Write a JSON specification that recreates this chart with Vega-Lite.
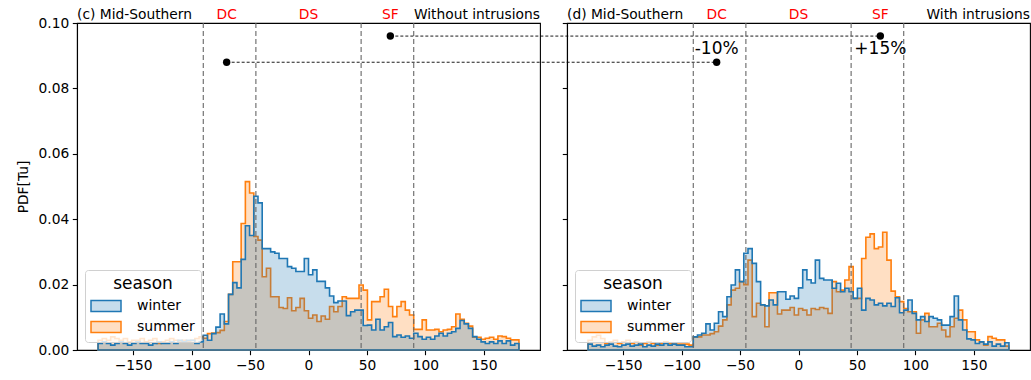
{
  "$schema": "https://vega.github.io/schema/vega-lite/v6.json",
  "padding": {"left": 15, "top": 7, "right": 0, "bottom": 3},
  "bounds": "flush",
  "spacing": 27,
  "config": {
    "font": "DejaVu Sans",
    "view": {"stroke": "black", "strokeWidth": 1.1},
    "axis": {
      "grid": false,
      "domainColor": "black",
      "domainWidth": 1.1,
      "tickColor": "black",
      "tickWidth": 1.1,
      "tickSize": 4.7,
      "labelFontSize": 13.8,
      "labelColor": "black",
      "labelPadding": 3.5,
      "titleFontSize": 13.8,
      "titleFontWeight": "normal",
      "titleColor": "black",
      "zindex": 1
    },
    "legend": {
      "orient": "bottom-left",
      "offset": 8,
      "fillColor": "rgba(255,255,255,0.8)",
      "strokeColor": "#d0d0d0",
      "cornerRadius": 3,
      "padding": 6,
      "titleFontSize": 17,
      "titleFontWeight": "normal",
      "titleColor": "black",
      "titleAnchor": "middle",
      "titlePadding": 2,
      "labelFontSize": 14,
      "labelColor": "black",
      "labelOffset": 20,
      "rowPadding": 1,
      "symbolOffset": 4,
      "symbolType": "M-1.5,-0.55H1.5V0.55H-1.5Z",
      "symbolSize": 400,
      "symbolStrokeWidth": 1.5
    }
  },
  "datasets": {
    "histC": [
      {"season":"winter","lo":-180,"hi":-176.4,"pdf":0.002},
      {"season":"winter","lo":-176.4,"hi":-172.8,"pdf":0.0025},
      {"season":"winter","lo":-172.8,"hi":-169.2,"pdf":0.002},
      {"season":"winter","lo":-169.2,"hi":-165.6,"pdf":0.0015},
      {"season":"winter","lo":-165.6,"hi":-162,"pdf":0.002},
      {"season":"winter","lo":-162,"hi":-158.4,"pdf":0.0025},
      {"season":"winter","lo":-158.4,"hi":-154.8,"pdf":0.002},
      {"season":"winter","lo":-154.8,"hi":-151.2,"pdf":0.0015},
      {"season":"winter","lo":-151.2,"hi":-147.6,"pdf":0.002},
      {"season":"winter","lo":-147.6,"hi":-144,"pdf":0.0025},
      {"season":"winter","lo":-144,"hi":-140.4,"pdf":0.002},
      {"season":"winter","lo":-140.4,"hi":-136.8,"pdf":0.002},
      {"season":"winter","lo":-136.8,"hi":-133.2,"pdf":0.0015},
      {"season":"winter","lo":-133.2,"hi":-129.6,"pdf":0.002},
      {"season":"winter","lo":-129.6,"hi":-126,"pdf":0.0025},
      {"season":"winter","lo":-126,"hi":-122.4,"pdf":0.002},
      {"season":"winter","lo":-122.4,"hi":-118.8,"pdf":0.002},
      {"season":"winter","lo":-118.8,"hi":-115.2,"pdf":0.0025},
      {"season":"winter","lo":-115.2,"hi":-111.6,"pdf":0.002},
      {"season":"winter","lo":-111.6,"hi":-108,"pdf":0.003},
      {"season":"winter","lo":-108,"hi":-104.4,"pdf":0.0025},
      {"season":"winter","lo":-104.4,"hi":-100.8,"pdf":0.003},
      {"season":"winter","lo":-100.8,"hi":-97.2,"pdf":0.003},
      {"season":"winter","lo":-97.2,"hi":-93.6,"pdf":0.002},
      {"season":"winter","lo":-93.6,"hi":-90,"pdf":0.0025},
      {"season":"winter","lo":-90,"hi":-86.4,"pdf":0.0045},
      {"season":"winter","lo":-86.4,"hi":-82.8,"pdf":0.003},
      {"season":"winter","lo":-82.8,"hi":-79.2,"pdf":0.005},
      {"season":"winter","lo":-79.2,"hi":-75.6,"pdf":0.007},
      {"season":"winter","lo":-75.6,"hi":-72,"pdf":0.011},
      {"season":"winter","lo":-72,"hi":-68.4,"pdf":0.008},
      {"season":"winter","lo":-68.4,"hi":-64.8,"pdf":0.017},
      {"season":"winter","lo":-64.8,"hi":-61.2,"pdf":0.0206},
      {"season":"winter","lo":-61.2,"hi":-57.6,"pdf":0.019},
      {"season":"winter","lo":-57.6,"hi":-54,"pdf":0.0277},
      {"season":"winter","lo":-54,"hi":-50.4,"pdf":0.038},
      {"season":"winter","lo":-50.4,"hi":-46.8,"pdf":0.035},
      {"season":"winter","lo":-46.8,"hi":-43.2,"pdf":0.047},
      {"season":"winter","lo":-43.2,"hi":-39.6,"pdf":0.045},
      {"season":"winter","lo":-39.6,"hi":-36,"pdf":0.031},
      {"season":"winter","lo":-36,"hi":-32.4,"pdf":0.031},
      {"season":"winter","lo":-32.4,"hi":-28.8,"pdf":0.030},
      {"season":"winter","lo":-28.8,"hi":-25.2,"pdf":0.0296},
      {"season":"winter","lo":-25.2,"hi":-21.6,"pdf":0.028},
      {"season":"winter","lo":-21.6,"hi":-18,"pdf":0.028},
      {"season":"winter","lo":-18,"hi":-14.4,"pdf":0.0255},
      {"season":"winter","lo":-14.4,"hi":-10.8,"pdf":0.025},
      {"season":"winter","lo":-10.8,"hi":-7.2,"pdf":0.024},
      {"season":"winter","lo":-7.2,"hi":-3.6,"pdf":0.024},
      {"season":"winter","lo":-3.6,"hi":0,"pdf":0.028},
      {"season":"winter","lo":0,"hi":3.6,"pdf":0.023},
      {"season":"winter","lo":3.6,"hi":7.2,"pdf":0.0245},
      {"season":"winter","lo":7.2,"hi":10.8,"pdf":0.021},
      {"season":"winter","lo":10.8,"hi":14.4,"pdf":0.021},
      {"season":"winter","lo":14.4,"hi":18,"pdf":0.019},
      {"season":"winter","lo":18,"hi":21.6,"pdf":0.0165},
      {"season":"winter","lo":21.6,"hi":25.2,"pdf":0.0145},
      {"season":"winter","lo":25.2,"hi":28.8,"pdf":0.015},
      {"season":"winter","lo":28.8,"hi":32.4,"pdf":0.015},
      {"season":"winter","lo":32.4,"hi":36,"pdf":0.0105},
      {"season":"winter","lo":36,"hi":39.6,"pdf":0.0117},
      {"season":"winter","lo":39.6,"hi":43.2,"pdf":0.0122},
      {"season":"winter","lo":43.2,"hi":46.8,"pdf":0.0122},
      {"season":"winter","lo":46.8,"hi":50.4,"pdf":0.0075},
      {"season":"winter","lo":50.4,"hi":54,"pdf":0.0076},
      {"season":"winter","lo":54,"hi":57.6,"pdf":0.0061},
      {"season":"winter","lo":57.6,"hi":61.2,"pdf":0.0094},
      {"season":"winter","lo":61.2,"hi":64.8,"pdf":0.0061},
      {"season":"winter","lo":64.8,"hi":68.4,"pdf":0.0071},
      {"season":"winter","lo":68.4,"hi":72,"pdf":0.0084},
      {"season":"winter","lo":72,"hi":75.6,"pdf":0.0041},
      {"season":"winter","lo":75.6,"hi":79.2,"pdf":0.0046},
      {"season":"winter","lo":79.2,"hi":82.8,"pdf":0.0039},
      {"season":"winter","lo":82.8,"hi":86.4,"pdf":0.0043},
      {"season":"winter","lo":86.4,"hi":90,"pdf":0.0036},
      {"season":"winter","lo":90,"hi":93.6,"pdf":0.0051},
      {"season":"winter","lo":93.6,"hi":97.2,"pdf":0.0041},
      {"season":"winter","lo":97.2,"hi":100.8,"pdf":0.0033},
      {"season":"winter","lo":100.8,"hi":104.4,"pdf":0.0039},
      {"season":"winter","lo":104.4,"hi":108,"pdf":0.0033},
      {"season":"winter","lo":108,"hi":111.6,"pdf":0.0043},
      {"season":"winter","lo":111.6,"hi":115.2,"pdf":0.0051},
      {"season":"winter","lo":115.2,"hi":118.8,"pdf":0.0043},
      {"season":"winter","lo":118.8,"hi":122.4,"pdf":0.0051},
      {"season":"winter","lo":122.4,"hi":126,"pdf":0.0056},
      {"season":"winter","lo":126,"hi":129.6,"pdf":0.0066},
      {"season":"winter","lo":129.6,"hi":133.2,"pdf":0.009},
      {"season":"winter","lo":133.2,"hi":136.8,"pdf":0.008},
      {"season":"winter","lo":136.8,"hi":140.4,"pdf":0.0066},
      {"season":"winter","lo":140.4,"hi":144,"pdf":0.0041},
      {"season":"winter","lo":144,"hi":147.6,"pdf":0.0033},
      {"season":"winter","lo":147.6,"hi":151.2,"pdf":0.0025},
      {"season":"winter","lo":151.2,"hi":154.8,"pdf":0.002},
      {"season":"winter","lo":154.8,"hi":158.4,"pdf":0.0025},
      {"season":"winter","lo":158.4,"hi":162,"pdf":0.002},
      {"season":"winter","lo":162,"hi":165.6,"pdf":0.0028},
      {"season":"winter","lo":165.6,"hi":169.2,"pdf":0.002},
      {"season":"winter","lo":169.2,"hi":172.8,"pdf":0.0028},
      {"season":"winter","lo":172.8,"hi":176.4,"pdf":0.0015},
      {"season":"winter","lo":176.4,"hi":180,"pdf":0.002},
      {"season":"summer","lo":-180,"hi":-176.4,"pdf":0.003},
      {"season":"summer","lo":-176.4,"hi":-172.8,"pdf":0.0035},
      {"season":"summer","lo":-172.8,"hi":-169.2,"pdf":0.003},
      {"season":"summer","lo":-169.2,"hi":-165.6,"pdf":0.004},
      {"season":"summer","lo":-165.6,"hi":-162,"pdf":0.0035},
      {"season":"summer","lo":-162,"hi":-158.4,"pdf":0.003},
      {"season":"summer","lo":-158.4,"hi":-154.8,"pdf":0.0035},
      {"season":"summer","lo":-154.8,"hi":-151.2,"pdf":0.0025},
      {"season":"summer","lo":-151.2,"hi":-147.6,"pdf":0.003},
      {"season":"summer","lo":-147.6,"hi":-144,"pdf":0.003},
      {"season":"summer","lo":-144,"hi":-140.4,"pdf":0.0035},
      {"season":"summer","lo":-140.4,"hi":-136.8,"pdf":0.0025},
      {"season":"summer","lo":-136.8,"hi":-133.2,"pdf":0.003},
      {"season":"summer","lo":-133.2,"hi":-129.6,"pdf":0.0035},
      {"season":"summer","lo":-129.6,"hi":-126,"pdf":0.002},
      {"season":"summer","lo":-126,"hi":-122.4,"pdf":0.0025},
      {"season":"summer","lo":-122.4,"hi":-118.8,"pdf":0.003},
      {"season":"summer","lo":-118.8,"hi":-115.2,"pdf":0.0035},
      {"season":"summer","lo":-115.2,"hi":-111.6,"pdf":0.003},
      {"season":"summer","lo":-111.6,"hi":-108,"pdf":0.0025},
      {"season":"summer","lo":-108,"hi":-104.4,"pdf":0.003},
      {"season":"summer","lo":-104.4,"hi":-100.8,"pdf":0.0025},
      {"season":"summer","lo":-100.8,"hi":-97.2,"pdf":0.003},
      {"season":"summer","lo":-97.2,"hi":-93.6,"pdf":0.0035},
      {"season":"summer","lo":-93.6,"hi":-90,"pdf":0.004},
      {"season":"summer","lo":-90,"hi":-86.4,"pdf":0.0036},
      {"season":"summer","lo":-86.4,"hi":-82.8,"pdf":0.005},
      {"season":"summer","lo":-82.8,"hi":-79.2,"pdf":0.0052},
      {"season":"summer","lo":-79.2,"hi":-75.6,"pdf":0.0053},
      {"season":"summer","lo":-75.6,"hi":-72,"pdf":0.006},
      {"season":"summer","lo":-72,"hi":-68.4,"pdf":0.0087},
      {"season":"summer","lo":-68.4,"hi":-64.8,"pdf":0.017},
      {"season":"summer","lo":-64.8,"hi":-61.2,"pdf":0.027},
      {"season":"summer","lo":-61.2,"hi":-57.6,"pdf":0.027},
      {"season":"summer","lo":-57.6,"hi":-54,"pdf":0.0387},
      {"season":"summer","lo":-54,"hi":-50.4,"pdf":0.0515},
      {"season":"summer","lo":-50.4,"hi":-46.8,"pdf":0.048},
      {"season":"summer","lo":-46.8,"hi":-43.2,"pdf":0.0347},
      {"season":"summer","lo":-43.2,"hi":-39.6,"pdf":0.0336},
      {"season":"summer","lo":-39.6,"hi":-36,"pdf":0.0224},
      {"season":"summer","lo":-36,"hi":-32.4,"pdf":0.025},
      {"season":"summer","lo":-32.4,"hi":-28.8,"pdf":0.0163},
      {"season":"summer","lo":-28.8,"hi":-25.2,"pdf":0.0163},
      {"season":"summer","lo":-25.2,"hi":-21.6,"pdf":0.013},
      {"season":"summer","lo":-21.6,"hi":-18,"pdf":0.0127},
      {"season":"summer","lo":-18,"hi":-14.4,"pdf":0.016},
      {"season":"summer","lo":-14.4,"hi":-10.8,"pdf":0.012},
      {"season":"summer","lo":-10.8,"hi":-7.2,"pdf":0.013},
      {"season":"summer","lo":-7.2,"hi":-3.6,"pdf":0.0158},
      {"season":"summer","lo":-3.6,"hi":0,"pdf":0.012},
      {"season":"summer","lo":0,"hi":3.6,"pdf":0.0097},
      {"season":"summer","lo":3.6,"hi":7.2,"pdf":0.0107},
      {"season":"summer","lo":7.2,"hi":10.8,"pdf":0.0087},
      {"season":"summer","lo":10.8,"hi":14.4,"pdf":0.0104},
      {"season":"summer","lo":14.4,"hi":18,"pdf":0.0094},
      {"season":"summer","lo":18,"hi":21.6,"pdf":0.0133},
      {"season":"summer","lo":21.6,"hi":25.2,"pdf":0.0117},
      {"season":"summer","lo":25.2,"hi":28.8,"pdf":0.0133},
      {"season":"summer","lo":28.8,"hi":32.4,"pdf":0.0163},
      {"season":"summer","lo":32.4,"hi":36,"pdf":0.0158},
      {"season":"summer","lo":36,"hi":39.6,"pdf":0.0158},
      {"season":"summer","lo":39.6,"hi":43.2,"pdf":0.0158},
      {"season":"summer","lo":43.2,"hi":46.8,"pdf":0.0199},
      {"season":"summer","lo":46.8,"hi":50.4,"pdf":0.0183},
      {"season":"summer","lo":50.4,"hi":54,"pdf":0.0092},
      {"season":"summer","lo":54,"hi":57.6,"pdf":0.0148},
      {"season":"summer","lo":57.6,"hi":61.2,"pdf":0.0148},
      {"season":"summer","lo":61.2,"hi":64.8,"pdf":0.0163},
      {"season":"summer","lo":64.8,"hi":68.4,"pdf":0.0186},
      {"season":"summer","lo":68.4,"hi":72,"pdf":0.0133},
      {"season":"summer","lo":72,"hi":75.6,"pdf":0.0102},
      {"season":"summer","lo":75.6,"hi":79.2,"pdf":0.0133},
      {"season":"summer","lo":79.2,"hi":82.8,"pdf":0.0148},
      {"season":"summer","lo":82.8,"hi":86.4,"pdf":0.0122},
      {"season":"summer","lo":86.4,"hi":90,"pdf":0.0107},
      {"season":"summer","lo":90,"hi":93.6,"pdf":0.0063},
      {"season":"summer","lo":93.6,"hi":97.2,"pdf":0.0063},
      {"season":"summer","lo":97.2,"hi":100.8,"pdf":0.0092},
      {"season":"summer","lo":100.8,"hi":104.4,"pdf":0.0061},
      {"season":"summer","lo":104.4,"hi":108,"pdf":0.0061},
      {"season":"summer","lo":108,"hi":111.6,"pdf":0.0063},
      {"season":"summer","lo":111.6,"hi":115.2,"pdf":0.0056},
      {"season":"summer","lo":115.2,"hi":118.8,"pdf":0.0061},
      {"season":"summer","lo":118.8,"hi":122.4,"pdf":0.0063},
      {"season":"summer","lo":122.4,"hi":126,"pdf":0.0071},
      {"season":"summer","lo":126,"hi":129.6,"pdf":0.011},
      {"season":"summer","lo":129.6,"hi":133.2,"pdf":0.0094},
      {"season":"summer","lo":133.2,"hi":136.8,"pdf":0.0082},
      {"season":"summer","lo":136.8,"hi":140.4,"pdf":0.0073},
      {"season":"summer","lo":140.4,"hi":144,"pdf":0.0039},
      {"season":"summer","lo":144,"hi":147.6,"pdf":0.0039},
      {"season":"summer","lo":147.6,"hi":151.2,"pdf":0.0033},
      {"season":"summer","lo":151.2,"hi":154.8,"pdf":0.0036},
      {"season":"summer","lo":154.8,"hi":158.4,"pdf":0.0039},
      {"season":"summer","lo":158.4,"hi":162,"pdf":0.0033},
      {"season":"summer","lo":162,"hi":165.6,"pdf":0.0043},
      {"season":"summer","lo":165.6,"hi":169.2,"pdf":0.0041},
      {"season":"summer","lo":169.2,"hi":172.8,"pdf":0.0036},
      {"season":"summer","lo":172.8,"hi":176.4,"pdf":0.0031},
      {"season":"summer","lo":176.4,"hi":180,"pdf":0.0031}
    ],
    "histD": [
      {"season":"winter","lo":-180,"hi":-176.4,"pdf":0.0018},
      {"season":"winter","lo":-176.4,"hi":-172.8,"pdf":0.0012},
      {"season":"winter","lo":-172.8,"hi":-169.2,"pdf":0.0015},
      {"season":"winter","lo":-169.2,"hi":-165.6,"pdf":0.001},
      {"season":"winter","lo":-165.6,"hi":-162,"pdf":0.0015},
      {"season":"winter","lo":-162,"hi":-158.4,"pdf":0.0018},
      {"season":"winter","lo":-158.4,"hi":-154.8,"pdf":0.0012},
      {"season":"winter","lo":-154.8,"hi":-151.2,"pdf":0.001},
      {"season":"winter","lo":-151.2,"hi":-147.6,"pdf":0.0015},
      {"season":"winter","lo":-147.6,"hi":-144,"pdf":0.0018},
      {"season":"winter","lo":-144,"hi":-140.4,"pdf":0.0012},
      {"season":"winter","lo":-140.4,"hi":-136.8,"pdf":0.0015},
      {"season":"winter","lo":-136.8,"hi":-133.2,"pdf":0.0018},
      {"season":"winter","lo":-133.2,"hi":-129.6,"pdf":0.001},
      {"season":"winter","lo":-129.6,"hi":-126,"pdf":0.0015},
      {"season":"winter","lo":-126,"hi":-122.4,"pdf":0.0012},
      {"season":"winter","lo":-122.4,"hi":-118.8,"pdf":0.0018},
      {"season":"winter","lo":-118.8,"hi":-115.2,"pdf":0.0015},
      {"season":"winter","lo":-115.2,"hi":-111.6,"pdf":0.002},
      {"season":"winter","lo":-111.6,"hi":-108,"pdf":0.0015},
      {"season":"winter","lo":-108,"hi":-104.4,"pdf":0.0018},
      {"season":"winter","lo":-104.4,"hi":-100.8,"pdf":0.0015},
      {"season":"winter","lo":-100.8,"hi":-97.2,"pdf":0.0015},
      {"season":"winter","lo":-97.2,"hi":-93.6,"pdf":0.001},
      {"season":"winter","lo":-93.6,"hi":-90,"pdf":0.001},
      {"season":"winter","lo":-90,"hi":-86.4,"pdf":0.004},
      {"season":"winter","lo":-86.4,"hi":-82.8,"pdf":0.0046},
      {"season":"winter","lo":-82.8,"hi":-79.2,"pdf":0.0051},
      {"season":"winter","lo":-79.2,"hi":-75.6,"pdf":0.008},
      {"season":"winter","lo":-75.6,"hi":-72,"pdf":0.0061},
      {"season":"winter","lo":-72,"hi":-68.4,"pdf":0.0082},
      {"season":"winter","lo":-68.4,"hi":-64.8,"pdf":0.0117},
      {"season":"winter","lo":-64.8,"hi":-61.2,"pdf":0.0102},
      {"season":"winter","lo":-61.2,"hi":-57.6,"pdf":0.0163},
      {"season":"winter","lo":-57.6,"hi":-54,"pdf":0.0199},
      {"season":"winter","lo":-54,"hi":-50.4,"pdf":0.0245},
      {"season":"winter","lo":-50.4,"hi":-46.8,"pdf":0.0209},
      {"season":"winter","lo":-46.8,"hi":-43.2,"pdf":0.0296},
      {"season":"winter","lo":-43.2,"hi":-39.6,"pdf":0.031},
      {"season":"winter","lo":-39.6,"hi":-36,"pdf":0.0265},
      {"season":"winter","lo":-36,"hi":-32.4,"pdf":0.0209},
      {"season":"winter","lo":-32.4,"hi":-28.8,"pdf":0.0138},
      {"season":"winter","lo":-28.8,"hi":-25.2,"pdf":0.0135},
      {"season":"winter","lo":-25.2,"hi":-21.6,"pdf":0.0153},
      {"season":"winter","lo":-21.6,"hi":-18,"pdf":0.0138},
      {"season":"winter","lo":-18,"hi":-14.4,"pdf":0.0178},
      {"season":"winter","lo":-14.4,"hi":-10.8,"pdf":0.0178},
      {"season":"winter","lo":-10.8,"hi":-7.2,"pdf":0.0155},
      {"season":"winter","lo":-7.2,"hi":-3.6,"pdf":0.0165},
      {"season":"winter","lo":-3.6,"hi":0,"pdf":0.0158},
      {"season":"winter","lo":0,"hi":3.6,"pdf":0.019},
      {"season":"winter","lo":3.6,"hi":7.2,"pdf":0.0245},
      {"season":"winter","lo":7.2,"hi":10.8,"pdf":0.0215},
      {"season":"winter","lo":10.8,"hi":14.4,"pdf":0.0205},
      {"season":"winter","lo":14.4,"hi":18,"pdf":0.0275},
      {"season":"winter","lo":18,"hi":21.6,"pdf":0.0219},
      {"season":"winter","lo":21.6,"hi":25.2,"pdf":0.0214},
      {"season":"winter","lo":25.2,"hi":28.8,"pdf":0.0214},
      {"season":"winter","lo":28.8,"hi":32.4,"pdf":0.0189},
      {"season":"winter","lo":32.4,"hi":36,"pdf":0.0204},
      {"season":"winter","lo":36,"hi":39.6,"pdf":0.0178},
      {"season":"winter","lo":39.6,"hi":43.2,"pdf":0.0189},
      {"season":"winter","lo":43.2,"hi":46.8,"pdf":0.0178},
      {"season":"winter","lo":46.8,"hi":50.4,"pdf":0.0158},
      {"season":"winter","lo":50.4,"hi":54,"pdf":0.0189},
      {"season":"winter","lo":54,"hi":57.6,"pdf":0.0122},
      {"season":"winter","lo":57.6,"hi":61.2,"pdf":0.0158},
      {"season":"winter","lo":61.2,"hi":64.8,"pdf":0.0153},
      {"season":"winter","lo":64.8,"hi":68.4,"pdf":0.0138},
      {"season":"winter","lo":68.4,"hi":72,"pdf":0.0143},
      {"season":"winter","lo":72,"hi":75.6,"pdf":0.0135},
      {"season":"winter","lo":75.6,"hi":79.2,"pdf":0.0143},
      {"season":"winter","lo":79.2,"hi":82.8,"pdf":0.0133},
      {"season":"winter","lo":82.8,"hi":86.4,"pdf":0.016},
      {"season":"winter","lo":86.4,"hi":90,"pdf":0.0114},
      {"season":"winter","lo":90,"hi":93.6,"pdf":0.0122},
      {"season":"winter","lo":93.6,"hi":97.2,"pdf":0.0153},
      {"season":"winter","lo":97.2,"hi":100.8,"pdf":0.0112},
      {"season":"winter","lo":100.8,"hi":104.4,"pdf":0.0092},
      {"season":"winter","lo":104.4,"hi":108,"pdf":0.0102},
      {"season":"winter","lo":108,"hi":111.6,"pdf":0.0087},
      {"season":"winter","lo":111.6,"hi":115.2,"pdf":0.0102},
      {"season":"winter","lo":115.2,"hi":118.8,"pdf":0.0097},
      {"season":"winter","lo":118.8,"hi":122.4,"pdf":0.0092},
      {"season":"winter","lo":122.4,"hi":126,"pdf":0.0076},
      {"season":"winter","lo":126,"hi":129.6,"pdf":0.0076},
      {"season":"winter","lo":129.6,"hi":133.2,"pdf":0.0102},
      {"season":"winter","lo":133.2,"hi":136.8,"pdf":0.0165},
      {"season":"winter","lo":136.8,"hi":140.4,"pdf":0.0092},
      {"season":"winter","lo":140.4,"hi":144,"pdf":0.0061},
      {"season":"winter","lo":144,"hi":147.6,"pdf":0.0034},
      {"season":"winter","lo":147.6,"hi":151.2,"pdf":0.0031},
      {"season":"winter","lo":151.2,"hi":154.8,"pdf":0.002},
      {"season":"winter","lo":154.8,"hi":158.4,"pdf":0.0025},
      {"season":"winter","lo":158.4,"hi":162,"pdf":0.0018},
      {"season":"winter","lo":162,"hi":165.6,"pdf":0.0025},
      {"season":"winter","lo":165.6,"hi":169.2,"pdf":0.0012},
      {"season":"winter","lo":169.2,"hi":172.8,"pdf":0.0018},
      {"season":"winter","lo":172.8,"hi":176.4,"pdf":0.0012},
      {"season":"winter","lo":176.4,"hi":180,"pdf":0.0022},
      {"season":"summer","lo":-180,"hi":-176.4,"pdf":0.003},
      {"season":"summer","lo":-176.4,"hi":-172.8,"pdf":0.004},
      {"season":"summer","lo":-172.8,"hi":-169.2,"pdf":0.0045},
      {"season":"summer","lo":-169.2,"hi":-165.6,"pdf":0.0035},
      {"season":"summer","lo":-165.6,"hi":-162,"pdf":0.002},
      {"season":"summer","lo":-162,"hi":-158.4,"pdf":0.0025},
      {"season":"summer","lo":-158.4,"hi":-154.8,"pdf":0.003},
      {"season":"summer","lo":-154.8,"hi":-151.2,"pdf":0.002},
      {"season":"summer","lo":-151.2,"hi":-147.6,"pdf":0.0025},
      {"season":"summer","lo":-147.6,"hi":-144,"pdf":0.003},
      {"season":"summer","lo":-144,"hi":-140.4,"pdf":0.002},
      {"season":"summer","lo":-140.4,"hi":-136.8,"pdf":0.0025},
      {"season":"summer","lo":-136.8,"hi":-133.2,"pdf":0.0015},
      {"season":"summer","lo":-133.2,"hi":-129.6,"pdf":0.002},
      {"season":"summer","lo":-129.6,"hi":-126,"pdf":0.0025},
      {"season":"summer","lo":-126,"hi":-122.4,"pdf":0.002},
      {"season":"summer","lo":-122.4,"hi":-118.8,"pdf":0.0015},
      {"season":"summer","lo":-118.8,"hi":-115.2,"pdf":0.002},
      {"season":"summer","lo":-115.2,"hi":-111.6,"pdf":0.0025},
      {"season":"summer","lo":-111.6,"hi":-108,"pdf":0.002},
      {"season":"summer","lo":-108,"hi":-104.4,"pdf":0.0018},
      {"season":"summer","lo":-104.4,"hi":-100.8,"pdf":0.0018},
      {"season":"summer","lo":-100.8,"hi":-97.2,"pdf":0.0018},
      {"season":"summer","lo":-97.2,"hi":-93.6,"pdf":0.0018},
      {"season":"summer","lo":-93.6,"hi":-90,"pdf":0.0015},
      {"season":"summer","lo":-90,"hi":-86.4,"pdf":0.0039},
      {"season":"summer","lo":-86.4,"hi":-82.8,"pdf":0.004},
      {"season":"summer","lo":-82.8,"hi":-79.2,"pdf":0.0046},
      {"season":"summer","lo":-79.2,"hi":-75.6,"pdf":0.0046},
      {"season":"summer","lo":-75.6,"hi":-72,"pdf":0.005},
      {"season":"summer","lo":-72,"hi":-68.4,"pdf":0.0056},
      {"season":"summer","lo":-68.4,"hi":-64.8,"pdf":0.0073},
      {"season":"summer","lo":-64.8,"hi":-61.2,"pdf":0.0092},
      {"season":"summer","lo":-61.2,"hi":-57.6,"pdf":0.0138},
      {"season":"summer","lo":-57.6,"hi":-54,"pdf":0.0183},
      {"season":"summer","lo":-54,"hi":-50.4,"pdf":0.0189},
      {"season":"summer","lo":-50.4,"hi":-46.8,"pdf":0.0209},
      {"season":"summer","lo":-46.8,"hi":-43.2,"pdf":0.020},
      {"season":"summer","lo":-43.2,"hi":-39.6,"pdf":0.0275},
      {"season":"summer","lo":-39.6,"hi":-36,"pdf":0.0102},
      {"season":"summer","lo":-36,"hi":-32.4,"pdf":0.0143},
      {"season":"summer","lo":-32.4,"hi":-28.8,"pdf":0.0138},
      {"season":"summer","lo":-28.8,"hi":-25.2,"pdf":0.0071},
      {"season":"summer","lo":-25.2,"hi":-21.6,"pdf":0.0175},
      {"season":"summer","lo":-21.6,"hi":-18,"pdf":0.0175},
      {"season":"summer","lo":-18,"hi":-14.4,"pdf":0.011},
      {"season":"summer","lo":-14.4,"hi":-10.8,"pdf":0.0122},
      {"season":"summer","lo":-10.8,"hi":-7.2,"pdf":0.0122},
      {"season":"summer","lo":-7.2,"hi":-3.6,"pdf":0.013},
      {"season":"summer","lo":-3.6,"hi":0,"pdf":0.0107},
      {"season":"summer","lo":0,"hi":3.6,"pdf":0.0127},
      {"season":"summer","lo":3.6,"hi":7.2,"pdf":0.0122},
      {"season":"summer","lo":7.2,"hi":10.8,"pdf":0.0107},
      {"season":"summer","lo":10.8,"hi":14.4,"pdf":0.0127},
      {"season":"summer","lo":14.4,"hi":18,"pdf":0.0124},
      {"season":"summer","lo":18,"hi":21.6,"pdf":0.013},
      {"season":"summer","lo":21.6,"hi":25.2,"pdf":0.0127},
      {"season":"summer","lo":25.2,"hi":28.8,"pdf":0.0112},
      {"season":"summer","lo":28.8,"hi":32.4,"pdf":0.0209},
      {"season":"summer","lo":32.4,"hi":36,"pdf":0.0178},
      {"season":"summer","lo":36,"hi":39.6,"pdf":0.0183},
      {"season":"summer","lo":39.6,"hi":43.2,"pdf":0.0214},
      {"season":"summer","lo":43.2,"hi":46.8,"pdf":0.0255},
      {"season":"summer","lo":46.8,"hi":50.4,"pdf":0.0158},
      {"season":"summer","lo":50.4,"hi":54,"pdf":0.0158},
      {"season":"summer","lo":54,"hi":57.6,"pdf":0.028},
      {"season":"summer","lo":57.6,"hi":61.2,"pdf":0.0345},
      {"season":"summer","lo":61.2,"hi":64.8,"pdf":0.0355},
      {"season":"summer","lo":64.8,"hi":68.4,"pdf":0.031},
      {"season":"summer","lo":68.4,"hi":72,"pdf":0.0315},
      {"season":"summer","lo":72,"hi":75.6,"pdf":0.036},
      {"season":"summer","lo":75.6,"hi":79.2,"pdf":0.0275},
      {"season":"summer","lo":79.2,"hi":82.8,"pdf":0.018},
      {"season":"summer","lo":82.8,"hi":86.4,"pdf":0.0163},
      {"season":"summer","lo":86.4,"hi":90,"pdf":0.0148},
      {"season":"summer","lo":90,"hi":93.6,"pdf":0.0127},
      {"season":"summer","lo":93.6,"hi":97.2,"pdf":0.0117},
      {"season":"summer","lo":97.2,"hi":100.8,"pdf":0.0117},
      {"season":"summer","lo":100.8,"hi":104.4,"pdf":0.0051},
      {"season":"summer","lo":104.4,"hi":108,"pdf":0.0092},
      {"season":"summer","lo":108,"hi":111.6,"pdf":0.0112},
      {"season":"summer","lo":111.6,"hi":115.2,"pdf":0.0071},
      {"season":"summer","lo":115.2,"hi":118.8,"pdf":0.0071},
      {"season":"summer","lo":118.8,"hi":122.4,"pdf":0.0082},
      {"season":"summer","lo":122.4,"hi":126,"pdf":0.0061},
      {"season":"summer","lo":126,"hi":129.6,"pdf":0.0041},
      {"season":"summer","lo":129.6,"hi":133.2,"pdf":0.0071},
      {"season":"summer","lo":133.2,"hi":136.8,"pdf":0.0097},
      {"season":"summer","lo":136.8,"hi":140.4,"pdf":0.0122},
      {"season":"summer","lo":140.4,"hi":144,"pdf":0.0092},
      {"season":"summer","lo":144,"hi":147.6,"pdf":0.0056},
      {"season":"summer","lo":147.6,"hi":151.2,"pdf":0.0056},
      {"season":"summer","lo":151.2,"hi":154.8,"pdf":0.0031},
      {"season":"summer","lo":154.8,"hi":158.4,"pdf":0.0025},
      {"season":"summer","lo":158.4,"hi":162,"pdf":0.0015},
      {"season":"summer","lo":162,"hi":165.6,"pdf":0.0041},
      {"season":"summer","lo":165.6,"hi":169.2,"pdf":0.0036},
      {"season":"summer","lo":169.2,"hi":172.8,"pdf":0.0031},
      {"season":"summer","lo":172.8,"hi":176.4,"pdf":0.0031},
      {"season":"summer","lo":176.4,"hi":180,"pdf":0.0012}
    ],
    "regions": [
      {"x": -90}, {"x": -45}, {"x": 45}, {"x": 90}
    ],
    "regionLabels": [
      {"x": -70, "label": "DC"}, {"x": 0, "label": "DS"}, {"x": 70, "label": "SF"}
    ],
    "markers": [
      {"x": 70, "y": 0.096}, {"x": -70, "y": 0.088}
    ]
  },
  "resolve": {"legend": {"fill": "independent", "stroke": "independent"}},
  "hconcat": [
    {
      "width": 463,
      "height": 327,
      "layer": [
        {
          "data": {"name": "histC"},
          "transform": [
            {"filter": "datum.season === 'summer'"},
            {"fold": ["lo", "hi"], "as": ["edge", "x"]}
          ],
          "mark": {"type": "area", "fillOpacity": 0.25, "strokeOpacity": 1, "strokeWidth": 1.6},
          "encoding": {
            "x": {"field": "x", "type": "quantitative",
                  "scale": {"domain": [-198, 198], "nice": false, "zero": false},
                  "axis": {"values": [-150, -100, -50, 0, 50, 100, 150], "title": null}},
            "y": {"field": "pdf", "type": "quantitative", "stack": null,
                  "scale": {"domain": [0, 0.1], "nice": false},
                  "axis": {"values": [0, 0.02, 0.04, 0.06, 0.08, 0.1], "format": ".2f", "title": "PDF[Tu]", "titlePadding": 8}},
            "fill": {"field": "season", "type": "nominal",
                     "scale": {"domain": ["winter", "summer"], "range": ["#1f77b4", "#ff7f0e"]},
                     "legend": {"title": "season", "encode": {"symbols": {"update": {"fillOpacity": {"value": 0.25}, "strokeOpacity": {"value": 1}}}}}},
            "stroke": {"field": "season", "type": "nominal",
                       "scale": {"domain": ["winter", "summer"], "range": ["#1f77b4", "#ff7f0e"]},
                       "legend": {"title": "season", "encode": {"symbols": {"update": {"fillOpacity": {"value": 0.25}, "strokeOpacity": {"value": 1}}}}}}
          }
        },
        {
          "data": {"name": "histC"},
          "transform": [
            {"filter": "datum.season === 'winter'"},
            {"fold": ["lo", "hi"], "as": ["edge", "x"]}
          ],
          "mark": {"type": "area", "fillOpacity": 0.25, "strokeOpacity": 1, "strokeWidth": 1.6},
          "encoding": {
            "x": {"field": "x", "type": "quantitative"},
            "y": {"field": "pdf", "type": "quantitative", "stack": null},
            "fill": {"field": "season", "type": "nominal"},
            "stroke": {"field": "season", "type": "nominal"}
          }
        },
        {
          "data": {"name": "regions"},
          "mark": {"type": "rule", "color": "#666666", "strokeWidth": 1.1, "strokeDash": [5, 3]},
          "encoding": {"x": {"field": "x", "type": "quantitative"}}
        },
        {
          "data": {"name": "markers"},
          "transform": [{"filter": "datum.x > 0"}],
          "mark": {"type": "rule", "color": "black", "strokeWidth": 0.9, "strokeDash": [3, 2]},
          "encoding": {
            "x": {"field": "x", "type": "quantitative"},
            "x2": {"datum": 489},
            "y": {"field": "y", "type": "quantitative"}
          }
        },
        {
          "data": {"name": "markers"},
          "transform": [{"filter": "datum.x < 0"}],
          "mark": {"type": "rule", "color": "black", "strokeWidth": 0.9, "strokeDash": [3, 2]},
          "encoding": {
            "x": {"field": "x", "type": "quantitative"},
            "x2": {"datum": 349},
            "y": {"field": "y", "type": "quantitative"}
          }
        },
        {
          "data": {"name": "markers"},
          "mark": {"type": "circle", "color": "black", "opacity": 1, "size": 55},
          "encoding": {
            "x": {"field": "x", "type": "quantitative"},
            "y": {"field": "y", "type": "quantitative"}
          }
        },
        {
          "data": {"name": "regionLabels"},
          "mark": {"type": "text", "color": "#ff0000", "fontSize": 13.8, "align": "center", "baseline": "alphabetic", "dy": -4},
          "encoding": {
            "x": {"field": "x", "type": "quantitative"},
            "y": {"datum": 0.1},
            "text": {"field": "label"}
          }
        },
        {
          "data": {"values": [{"x": -198, "label": "(c) Mid-Southern"}]},
          "mark": {"type": "text", "color": "black", "fontSize": 13.8, "align": "left", "baseline": "alphabetic", "dy": -4},
          "encoding": {
            "x": {"field": "x", "type": "quantitative"},
            "y": {"datum": 0.1},
            "text": {"field": "label"}
          }
        },
        {
          "data": {"values": [{"x": 198, "label": "Without intrusions"}]},
          "mark": {"type": "text", "color": "black", "fontSize": 13.8, "align": "right", "baseline": "alphabetic", "dy": -4},
          "encoding": {
            "x": {"field": "x", "type": "quantitative"},
            "y": {"datum": 0.1},
            "text": {"field": "label"}
          }
        }
      ]
    },
    {
      "width": 463,
      "height": 327,
      "layer": [
        {
          "data": {"name": "histD"},
          "transform": [
            {"filter": "datum.season === 'summer'"},
            {"fold": ["lo", "hi"], "as": ["edge", "x"]}
          ],
          "mark": {"type": "area", "fillOpacity": 0.25, "strokeOpacity": 1, "strokeWidth": 1.6},
          "encoding": {
            "x": {"field": "x", "type": "quantitative",
                  "scale": {"domain": [-198, 198], "nice": false, "zero": false},
                  "axis": {"values": [-150, -100, -50, 0, 50, 100, 150], "title": null}},
            "y": {"field": "pdf", "type": "quantitative", "stack": null,
                  "scale": {"domain": [0, 0.1], "nice": false},
                  "axis": {"values": [0, 0.02, 0.04, 0.06, 0.08, 0.1], "labels": false, "title": null}},
            "fill": {"field": "season", "type": "nominal",
                     "scale": {"domain": ["winter", "summer"], "range": ["#1f77b4", "#ff7f0e"]},
                     "legend": {"title": "season", "encode": {"symbols": {"update": {"fillOpacity": {"value": 0.25}, "strokeOpacity": {"value": 1}}}}}},
            "stroke": {"field": "season", "type": "nominal",
                       "scale": {"domain": ["winter", "summer"], "range": ["#1f77b4", "#ff7f0e"]},
                       "legend": {"title": "season", "encode": {"symbols": {"update": {"fillOpacity": {"value": 0.25}, "strokeOpacity": {"value": 1}}}}}}
          }
        },
        {
          "data": {"name": "histD"},
          "transform": [
            {"filter": "datum.season === 'winter'"},
            {"fold": ["lo", "hi"], "as": ["edge", "x"]}
          ],
          "mark": {"type": "area", "fillOpacity": 0.25, "strokeOpacity": 1, "strokeWidth": 1.6},
          "encoding": {
            "x": {"field": "x", "type": "quantitative"},
            "y": {"field": "pdf", "type": "quantitative", "stack": null},
            "fill": {"field": "season", "type": "nominal"},
            "stroke": {"field": "season", "type": "nominal"}
          }
        },
        {
          "data": {"name": "regions"},
          "mark": {"type": "rule", "color": "#666666", "strokeWidth": 1.1, "strokeDash": [5, 3]},
          "encoding": {"x": {"field": "x", "type": "quantitative"}}
        },
        {
          "data": {"name": "markers"},
          "mark": {"type": "circle", "color": "black", "opacity": 1, "size": 55},
          "encoding": {
            "x": {"field": "x", "type": "quantitative"},
            "y": {"field": "y", "type": "quantitative"}
          }
        },
        {
          "data": {"values": [{"x": -70, "y": 0.092, "label": "-10%"}, {"x": 70, "y": 0.092, "label": "+15%"}]},
          "mark": {"type": "text", "color": "black", "fontSize": 17, "align": "center", "baseline": "middle"},
          "encoding": {
            "x": {"field": "x", "type": "quantitative"},
            "y": {"field": "y", "type": "quantitative"},
            "text": {"field": "label"}
          }
        },
        {
          "data": {"name": "regionLabels"},
          "mark": {"type": "text", "color": "#ff0000", "fontSize": 13.8, "align": "center", "baseline": "alphabetic", "dy": -4},
          "encoding": {
            "x": {"field": "x", "type": "quantitative"},
            "y": {"datum": 0.1},
            "text": {"field": "label"}
          }
        },
        {
          "data": {"values": [{"x": -198, "label": "(d) Mid-Southern"}]},
          "mark": {"type": "text", "color": "black", "fontSize": 13.8, "align": "left", "baseline": "alphabetic", "dy": -4},
          "encoding": {
            "x": {"field": "x", "type": "quantitative"},
            "y": {"datum": 0.1},
            "text": {"field": "label"}
          }
        },
        {
          "data": {"values": [{"x": 198, "label": "With intrusions"}]},
          "mark": {"type": "text", "color": "black", "fontSize": 13.8, "align": "right", "baseline": "alphabetic", "dy": -4},
          "encoding": {
            "x": {"field": "x", "type": "quantitative"},
            "y": {"datum": 0.1},
            "text": {"field": "label"}
          }
        }
      ]
    }
  ]
}
